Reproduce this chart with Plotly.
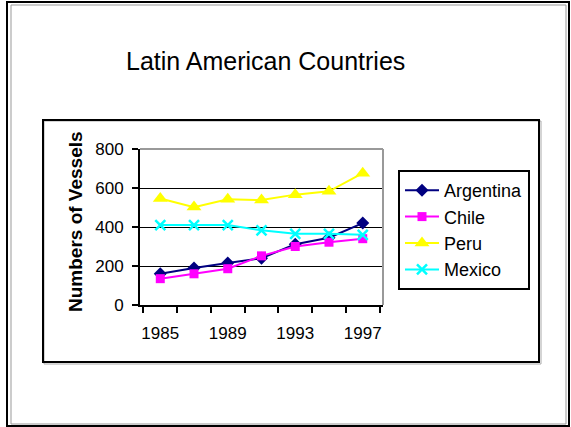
import plotly.graph_objects as go

W, H = 571, 427

years = ["1985", "1987", "1989", "1991", "1993", "1995", "1997"]
tick_text = ["1985", "", "1989", "", "1993", "", "1997"]
argentina = [160, 190, 215, 240, 312, 345, 420]
chile = [135, 160, 186, 252, 300, 322, 340]
peru = [546, 502, 542, 538, 566, 583, 676]
mexico = [410, 410, 410, 383, 365, 365, 360]

FONT = "Arial, Liberation Sans, sans-serif"

def px(x):
    return x / W

def py(y):
    return 1 - y / H

fig = go.Figure()
fig.add_trace(go.Scatter(x=years, y=argentina, name="Argentina", mode="lines+markers",
                         line=dict(color="#000080", width=2),
                         marker=dict(symbol="diamond", size=10, color="#000080")))
fig.add_trace(go.Scatter(x=years, y=chile, name="Chile", mode="lines+markers",
                         line=dict(color="#FF00FF", width=2),
                         marker=dict(symbol="square", size=9, color="#FF00FF")))
fig.add_trace(go.Scatter(x=years, y=peru, name="Peru", mode="lines+markers",
                         line=dict(color="#FFFF00", width=2),
                         marker=dict(symbol="triangle-up", size=13, color="#FFFF00")))
fig.add_trace(go.Scatter(x=years, y=mexico, name="Mexico", mode="lines+markers",
                         line=dict(color="#00FFFF", width=2),
                         marker=dict(symbol="x-thin", size=10, color="#00FFFF",
                                     line=dict(color="#00FFFF", width=2.5))))

shapes = [
    # outer double frame
    dict(type="rect", xref="paper", yref="paper", x0=px(7), x1=px(569), y0=py(426), y1=py(2),
         line=dict(color="black", width=2)),
    dict(type="rect", xref="paper", yref="paper", x0=px(11), x1=px(566), y0=py(424), y1=py(5),
         line=dict(color="#999999", width=1)),
    # chart box shadow + box
    dict(type="rect", xref="paper", yref="paper", x0=px(44), x1=px(541), y0=py(364), y1=py(121),
         line=dict(color="#aaaaaa", width=1)),
    dict(type="rect", xref="paper", yref="paper", x0=px(43), x1=px(539), y0=py(362), y1=py(120),
         line=dict(color="black", width=2)),
    # plot area gray top/right edges
    dict(type="line", xref="x domain", yref="y domain", x0=0, x1=1, y0=1, y1=1,
         line=dict(color="#999999", width=2), layer="above"),
    dict(type="line", xref="x domain", yref="y domain", x0=1, x1=1, y0=0, y1=1,
         line=dict(color="#999999", width=2), layer="above"),
]

fig.update_layout(
    width=W, height=H,
    margin=dict(l=0, r=0, t=0, b=0),
    paper_bgcolor="white", plot_bgcolor="white",
    font=dict(family=FONT, color="black", size=17),
    showlegend=True,
    legend=dict(x=px(398), y=py(170), xanchor="left", yanchor="top",
                bordercolor="black", borderwidth=2, bgcolor="white",
                font=dict(family=FONT, size=18, color="black"),
                tracegroupgap=0, itemwidth=34),
    shapes=shapes,
    annotations=[
        dict(text="Latin American Countries", x=px(265), y=py(61), xref="paper", yref="paper",
             showarrow=False, xanchor="center", yanchor="middle",
             font=dict(family=FONT, size=25, color="black")),
        dict(text="<b>Numbers of Vessels</b>", x=px(75), y=py(222), xref="paper", yref="paper",
             showarrow=False, xanchor="center", yanchor="middle", textangle=-90,
             font=dict(family=FONT, size=19, color="black")),
    ],
)

fig.update_xaxes(
    domain=[px(140), px(383)], type="category",
    tickmode="array", tickvals=years, ticktext=tick_text, tickangle=0,
    tickson="boundaries", ticks="outside", ticklen=6, tickwidth=2, tickcolor="black",
    ticklabelstandoff=12,
    showline=True, linecolor="black", linewidth=2, showgrid=False, zeroline=False,
    tickfont=dict(family=FONT, size=17), automargin=False,
)
fig.update_yaxes(
    domain=[py(305), py(149)], range=[0, 800], tickvals=[0, 200, 400, 600, 800],
    ticks="outside", ticklen=6, tickwidth=2, tickcolor="black",
    ticklabelstandoff=5,
    showline=True, linecolor="black", linewidth=2,
    showgrid=True, gridcolor="black", gridwidth=1, zeroline=False,
    tickfont=dict(family=FONT, size=17), automargin=False,
)

fig.write_html("out.html", config={"displayModeBar": False},
               post_script="document.body.style.margin='0';document.body.style.overflow='hidden';")
